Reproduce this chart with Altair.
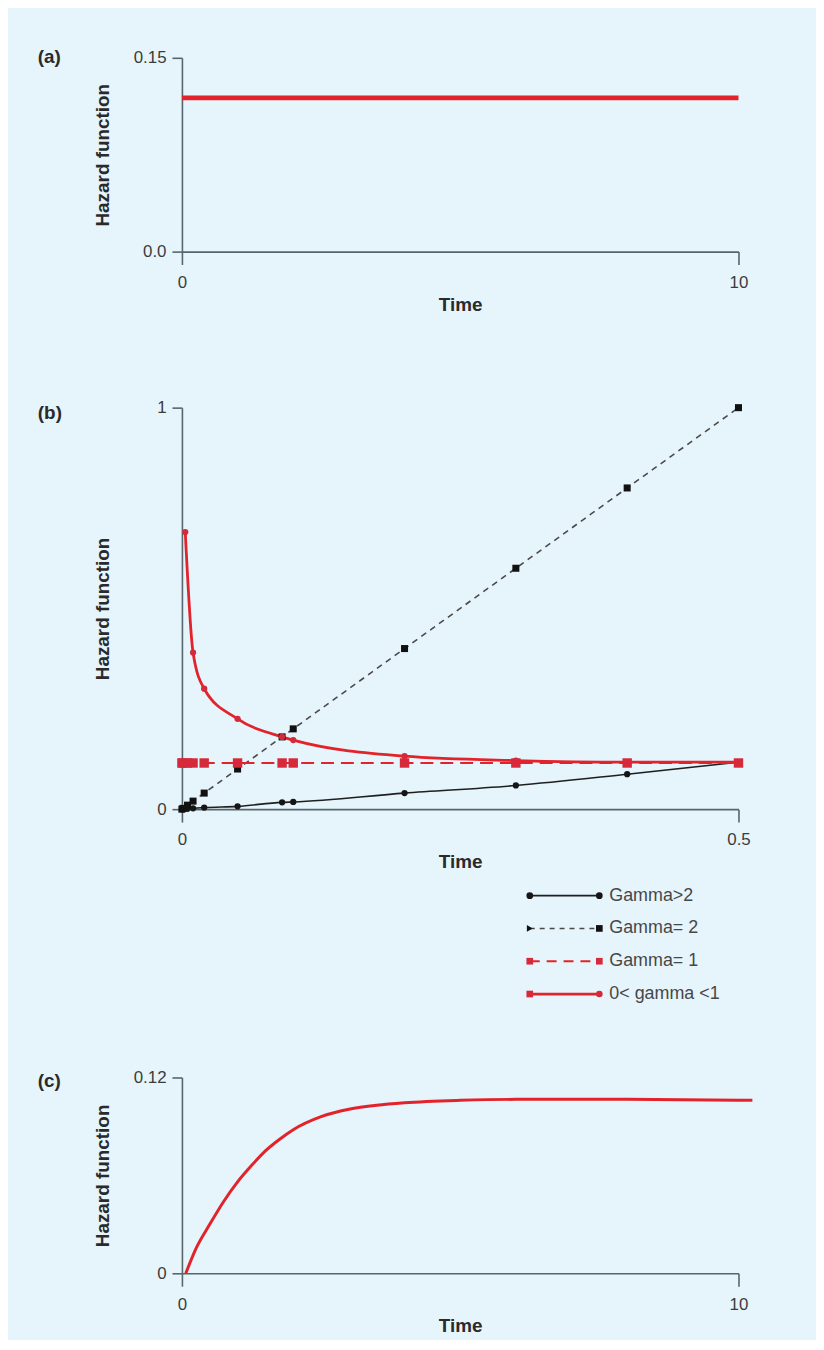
import altair as alt
import pandas as pd

# ---------------- data ----------------
# Panel (a): constant hazard
a_time = [0, 10]
a_hazard = [0.119, 0.119]
a_x_ticks = [0, 10]
a_x_labels = ["0", "10"]
a_y_ticks = [0, 0.15]
a_y_labels = ["0.0", "0.15"]

# Panel (b): Weibull hazards
b_series = ["Gamma>2", "Gamma= 2", "Gamma= 1", "0< gamma <1"]
b_time = [0, 0.001, 0.005, 0.01, 0.02, 0.05, 0.09, 0.1, 0.2, 0.3, 0.4, 0.5]
b_gamma_gt2 = [0, 0, 0.001, 0.002, 0.004, 0.007, 0.017, 0.018, 0.040, 0.059, 0.087, 0.117]
b_gamma_eq2 = [0, 0.002, 0.01, 0.02, 0.04, 0.10, 0.18, 0.20, 0.40, 0.60, 0.80, 1.00]
b_gamma_eq1 = [0.115, 0.115, 0.115, 0.115, 0.115, 0.115, 0.115, 0.115, 0.115, 0.115, 0.115, 0.115]
b_time_lt1 = [0.003, 0.01, 0.02, 0.05, 0.09, 0.1, 0.2, 0.3, 0.4, 0.5]
b_gamma_lt1 = [0.69, 0.39, 0.30, 0.225, 0.18, 0.172, 0.132, 0.121, 0.117, 0.117]
b_x_ticks = [0, 0.5]
b_x_labels = ["0", "0.5"]
b_y_ticks = [0, 1]
b_y_labels = ["0", "1"]

# Panel (c): rising then flat hazard
c_time = [0.07, 0.25, 0.5, 0.75, 1.0, 1.25, 1.5, 1.75, 2.0, 2.5, 3.0, 3.5, 4.0, 5.0, 6.0, 8.0, 10.0, 10.25]
c_hazard = [0, 0.015, 0.030, 0.044, 0.056, 0.066, 0.075, 0.082, 0.088, 0.096, 0.1005, 0.103, 0.1045,
            0.106, 0.1066, 0.1066, 0.106, 0.106]
c_x_ticks = [0, 10]
c_x_labels = ["0", "10"]
c_y_ticks = [0, 0.12]
c_y_labels = ["0", "0.12"]

# ---------------- styles ----------------
FONT = "Liberation Sans, Arial, sans-serif"
BG = "#e6f4fb"
AXIS = "#55666d"
RED = "#e2232b"
MRED = "#d62a3a"
TXT = "#2a2a2a"

styles = {
    "Gamma>2": dict(line="#1f1f1f", dash=None, width=1.6, shape="circle", mcolor="#161616",
                    size=40, lshape="circle"),
    "Gamma= 2": dict(line="#4a4a4a", dash=[6, 5], width=1.6, shape="square", mcolor="#111111",
                     size=50, lshape="triangle-right"),
    "Gamma= 1": dict(line=RED, dash=[13, 7], width=2.2, shape="square", mcolor=MRED,
                     size=90, lshape="square"),
    "0< gamma <1": dict(line=RED, dash=None, width=2.8, shape="circle", mcolor=MRED,
                        size=40, lshape="square"),
}


def label_expr(vals, labels):
    parts = [f"datum.value == {v} ? '{l}'" for v, l in zip(vals, labels)]
    return " : ".join(parts) + " : ''"


def xaxis(ticks, labels):
    return alt.Axis(values=ticks, labelExpr=label_expr(ticks, labels), title="Time")


def yaxis(ticks, labels, h):
    return alt.Axis(values=ticks, labelExpr=label_expr(ticks, labels),
                    title="Hazard function", titleY=h / 2)


def panel_title(t, dy):
    return alt.TitleParams(text=t, anchor="start", frame="group", orient="top", offset=0,
                           dx=-145, dy=dy, baseline="middle", font=FONT, fontSize=19,
                           fontWeight="bold", color=TXT)


W = 560
HA, HB, HC = 195, 404, 197

# ---------------- panel (a) ----------------
a_df = pd.DataFrame({"time": a_time, "hazard": a_hazard})
panel_a = alt.Chart(a_df).mark_line(color=RED, strokeWidth=5, strokeCap="butt").encode(
    x=alt.X("time:Q", scale=alt.Scale(domain=[0, 10], nice=False), axis=xaxis(a_x_ticks, a_x_labels)),
    y=alt.Y("hazard:Q", scale=alt.Scale(domain=[0, 0.15], nice=False),
            axis=yaxis(a_y_ticks, a_y_labels, HA)),
).properties(width=W, height=HA, title=panel_title("(a)", 27))

# ---------------- panel (b) ----------------
frames = []
for s, t, v in [(b_series[0], b_time, b_gamma_gt2), (b_series[1], b_time, b_gamma_eq2),
                (b_series[2], b_time, b_gamma_eq1), (b_series[3], b_time_lt1, b_gamma_lt1)]:
    frames.append(pd.DataFrame({"time": t, "hazard": v, "series": s}))
b_df = pd.concat(frames, ignore_index=True)

bx = alt.X("time:Q", scale=alt.Scale(domain=[0, 0.5], nice=False), axis=xaxis(b_x_ticks, b_x_labels))
by = alt.Y("hazard:Q", scale=alt.Scale(domain=[0, 1], nice=False), axis=yaxis(b_y_ticks, b_y_labels, HB))

b_layers = []
for s in b_series:
    st = styles[s]
    kw = dict(color=st["line"], strokeWidth=st["width"], interpolate="monotone")
    if st["dash"]:
        kw["strokeDash"] = st["dash"]
    b_layers.append(alt.Chart(b_df).transform_filter(alt.datum.series == s)
                    .mark_line(**kw).encode(x=bx, y=by))
for s in b_series:
    st = styles[s]
    b_layers.append(alt.Chart(b_df).transform_filter(alt.datum.series == s)
                    .mark_point(filled=True, shape=st["shape"], size=st["size"],
                                color=st["mcolor"], opacity=1)
                    .encode(x=bx, y=by))
main_b = alt.layer(*b_layers)

# legend (drawn with its own scales, placed under the plot)
leg_rows = []
for s in b_series:
    for e in [0, 1]:
        leg_rows.append({"series": s, "end": e})
leg_df = pd.DataFrame(leg_rows)
lx = alt.X("end:Q", scale=alt.Scale(domain=[0, 1], range=[350, 420]), axis=None)
ly = alt.Y("series:N", scale=alt.Scale(domain=b_series, range=[491, 590], padding=0), axis=None)
leg_layers = []
for s in b_series:
    st = styles[s]
    kw = dict(color=st["line"], strokeWidth=st["width"])
    if st["dash"]:
        kw["strokeDash"] = [5, 5] if s == "Gamma= 2" else [10, 7]
    leg_layers.append(alt.Chart(leg_df).transform_filter(alt.datum.series == s)
                      .mark_line(**kw).encode(x=lx, y=ly))
    leg_layers.append(alt.Chart(leg_df).transform_filter((alt.datum.series == s) & (alt.datum.end == 0))
                      .mark_point(filled=True, shape=st["lshape"], size=45, color=st["mcolor"], opacity=1)
                      .encode(x=lx, y=ly))
    leg_layers.append(alt.Chart(leg_df).transform_filter((alt.datum.series == s) & (alt.datum.end == 1))
                      .mark_point(filled=True, shape=st["shape"], size=45, color=st["mcolor"], opacity=1)
                      .encode(x=lx, y=ly))
leg_layers.append(alt.Chart(leg_df).transform_filter(alt.datum.end == 1)
                  .mark_text(align="left", baseline="middle", dx=10, font=FONT, fontSize=18,
                             color="#474747")
                  .encode(x=lx, y=ly, text="series:N"))
legend_b = alt.layer(*leg_layers)

panel_b = alt.layer(main_b, legend_b).resolve_scale(x="independent", y="independent").properties(
    width=W, height=HB, title=panel_title("(b)", 33))

# ---------------- panel (c) ----------------
c_df = pd.DataFrame({"time": c_time, "hazard": c_hazard})
panel_c = alt.Chart(c_df).mark_line(color=RED, strokeWidth=3, interpolate="monotone").encode(
    x=alt.X("time:Q", scale=alt.Scale(domain=[0, 10], nice=False), axis=xaxis(c_x_ticks, c_x_labels)),
    y=alt.Y("hazard:Q", scale=alt.Scale(domain=[0, 0.12], nice=False),
            axis=yaxis(c_y_ticks, c_y_labels, HC)),
).properties(width=W, height=HC, title=panel_title("(c)", 32))

# ---------------- spacers ----------------
sp_df = pd.DataFrame({"v": [0]})


def spacer(h):
    return alt.Chart(sp_df).mark_point(opacity=0).encode(
        x=alt.X("v:Q", axis=None), y=alt.Y("v:Q", axis=None)).properties(width=W, height=h)


chart = alt.vconcat(panel_a, spacer(157), panel_b, spacer(270), panel_c,
                    spacing=0, bounds="flush").properties(
    background=BG,
    padding={"left": 30, "top": 36, "right": 58, "bottom": 0},
).configure_view(stroke=None).configure_axis(
    grid=False, domainColor=AXIS, domainWidth=1.6, tickColor=AXIS, tickWidth=1.6,
    labelFont=FONT, labelFontSize=17, labelColor="#3c3c3c", labelFlush=False,
    titleFont=FONT, titleFontSize=19, titleFontWeight="bold", titleColor=TXT,
).configure_axisX(
    tickSize=13, labelPadding=10, titleY=53, titleBaseline="middle",
).configure_axisY(
    tickSize=10, labelPadding=6, titleX=-80, titleBaseline="middle",
)

chart.save("out.html", embed_options={"renderer": "svg", "actions": False})
